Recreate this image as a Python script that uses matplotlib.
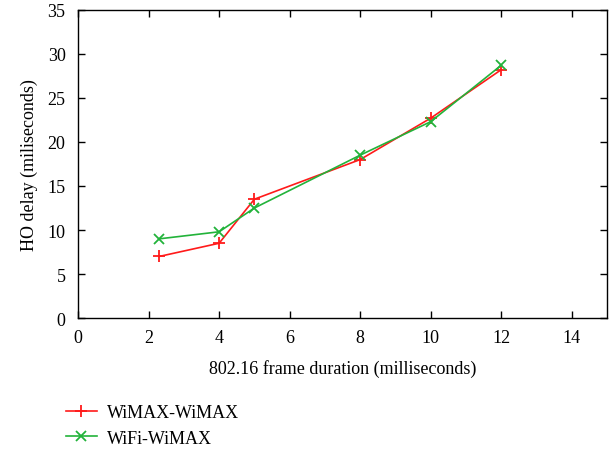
import matplotlib
matplotlib.use('Agg')
import matplotlib.pyplot as plt

frame = [2.3, 4, 5, 8, 10, 12]
wimax_wimax = [7.0, 8.5, 13.5, 18.0, 22.7, 28.2]
wifi_wimax = [9.0, 9.8, 12.5, 18.5, 22.3, 28.7]

plt.rcParams['font.family'] = 'Liberation Serif'
plt.rcParams['font.size'] = 13

fig = plt.figure(figsize=(6.10, 4.52), dpi=100)
ax = fig.add_axes([0.128, 0.294, 0.867, 0.682])

l1, = ax.plot(frame, wimax_wimax, color='#ff1a1a', marker='+', markersize=8, linewidth=1.2,
              markeredgewidth=1.3, label='WiMAX-WiMAX')
l2, = ax.plot(frame, wifi_wimax, color='#22b33a', marker='x', markersize=6.5, linewidth=1.2,
              markeredgewidth=1.3, label='WiFi-WiMAX')

ax.set_xlim(0, 15)
ax.set_ylim(0, 35)
ax.set_xticks(range(0, 15, 2))
ax.set_yticks(range(0, 36, 5))
ax.tick_params(direction='in', top=True, right=True, length=5, width=1)
ax.tick_params(axis='x', pad=8)
ax.tick_params(axis='y', pad=9)
for s in ax.spines.values():
    s.set_linewidth(1)

ax.set_xlabel('802.16 frame duration (milliseconds)', labelpad=9)
ax.set_ylabel('HO delay (miliseconds)', labelpad=7)

fig.legend(handles=[l1, l2], loc='upper left', bbox_to_anchor=(0.108, 0.103),
           frameon=False, handlelength=1.7, handletextpad=0.55, labelspacing=0.45,
           borderaxespad=0, borderpad=0)

plt.savefig('out.png', dpi=100)
